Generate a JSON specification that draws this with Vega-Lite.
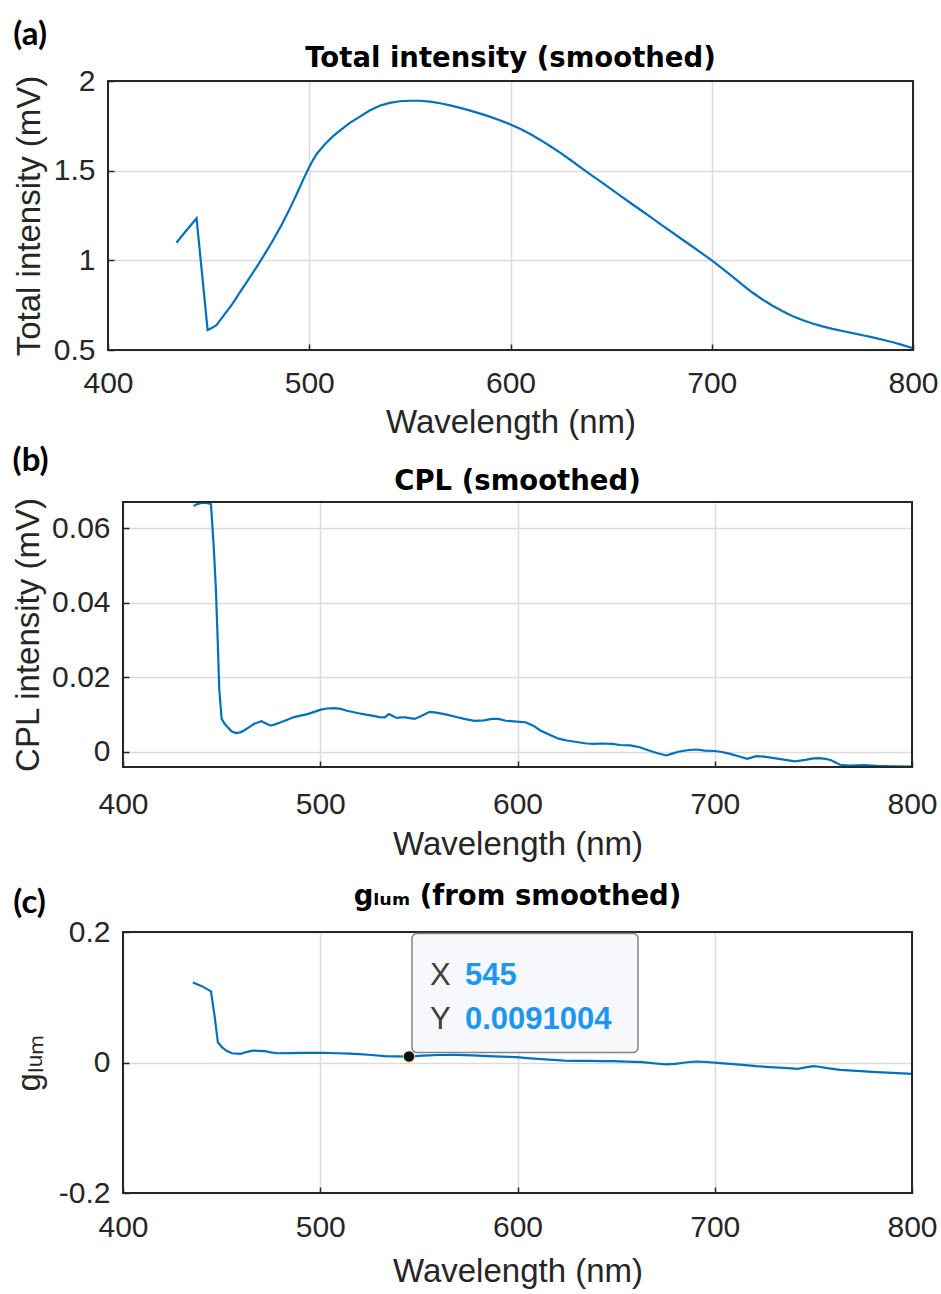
{
  "$schema": "https://vega.github.io/schema/vega-lite/v6.json",
  "background": "white",
  "padding": {"left": 12, "top": 18, "right": 3, "bottom": 3},
  "spacing": 6,
  "config": {
    "font": "Liberation Sans",
    "view": {"stroke": null},
    "axis": {
      "labelFont": "Liberation Sans", "labelFontSize": 30, "labelColor": "#262626",
      "titleFont": "Liberation Sans", "titleFontSize": 33, "titleFontWeight": "normal", "titleColor": "#262626",
      "gridColor": "#dcdcdc", "gridWidth": 1.5, "domain": false,
      "tickColor": "#262626", "tickSize": -6, "tickWidth": 1.5,
      "labelFlush": false, "labelOverlap": false
    },
    "title": {"font": "DejaVu Sans", "fontSize": 27.5, "fontWeight": "bold", "color": "#000000"}
  },
  "vconcat": [
    {
      "title": {"text": "(a)", "anchor": "start", "frame": "bounds", "font": "Lato", "fontSize": 33, "fontWeight": "bold", "color": "#000000", "offset": -7},
      "vconcat": [
        {
          "width": 805, "height": 269,
          "title": {"text": "Total intensity (smoothed)", "offset": -6},
          "data": {"values": [
            {"wavelength": 434, "intensity": 1.098}, {"wavelength": 437, "intensity": 1.14}, {"wavelength": 440, "intensity": 1.18},
            {"wavelength": 444, "intensity": 1.235}, {"wavelength": 449.5, "intensity": 0.611}, {"wavelength": 452, "intensity": 0.625},
            {"wavelength": 454, "intensity": 0.64}, {"wavelength": 458, "intensity": 0.7}, {"wavelength": 462, "intensity": 0.76},
            {"wavelength": 466, "intensity": 0.83}, {"wavelength": 470, "intensity": 0.896}, {"wavelength": 474, "intensity": 0.965},
            {"wavelength": 478, "intensity": 1.037}, {"wavelength": 482, "intensity": 1.112}, {"wavelength": 486, "intensity": 1.192},
            {"wavelength": 490, "intensity": 1.28}, {"wavelength": 494, "intensity": 1.375}, {"wavelength": 497, "intensity": 1.45},
            {"wavelength": 500, "intensity": 1.52}, {"wavelength": 502, "intensity": 1.562}, {"wavelength": 504, "intensity": 1.597},
            {"wavelength": 508, "intensity": 1.65}, {"wavelength": 512, "intensity": 1.694}, {"wavelength": 516, "intensity": 1.73},
            {"wavelength": 520, "intensity": 1.765}, {"wavelength": 525, "intensity": 1.8}, {"wavelength": 530, "intensity": 1.835},
            {"wavelength": 535, "intensity": 1.862}, {"wavelength": 540, "intensity": 1.878}, {"wavelength": 545, "intensity": 1.887},
            {"wavelength": 550, "intensity": 1.89}, {"wavelength": 555, "intensity": 1.89}, {"wavelength": 560, "intensity": 1.885},
            {"wavelength": 565, "intensity": 1.876}, {"wavelength": 570, "intensity": 1.864}, {"wavelength": 575, "intensity": 1.85},
            {"wavelength": 580, "intensity": 1.835}, {"wavelength": 585, "intensity": 1.818}, {"wavelength": 590, "intensity": 1.8},
            {"wavelength": 595, "intensity": 1.78}, {"wavelength": 600, "intensity": 1.758}, {"wavelength": 605, "intensity": 1.732},
            {"wavelength": 610, "intensity": 1.703}, {"wavelength": 615, "intensity": 1.67}, {"wavelength": 620, "intensity": 1.635},
            {"wavelength": 625, "intensity": 1.598}, {"wavelength": 630, "intensity": 1.558}, {"wavelength": 635, "intensity": 1.517},
            {"wavelength": 640, "intensity": 1.476}, {"wavelength": 645, "intensity": 1.437}, {"wavelength": 650, "intensity": 1.397},
            {"wavelength": 655, "intensity": 1.357}, {"wavelength": 660, "intensity": 1.317}, {"wavelength": 665, "intensity": 1.278},
            {"wavelength": 670, "intensity": 1.238}, {"wavelength": 675, "intensity": 1.198}, {"wavelength": 680, "intensity": 1.159},
            {"wavelength": 685, "intensity": 1.119}, {"wavelength": 690, "intensity": 1.08}, {"wavelength": 695, "intensity": 1.04},
            {"wavelength": 700, "intensity": 1.0}, {"wavelength": 705, "intensity": 0.957}, {"wavelength": 710, "intensity": 0.912},
            {"wavelength": 715, "intensity": 0.866}, {"wavelength": 720, "intensity": 0.822}, {"wavelength": 725, "intensity": 0.783},
            {"wavelength": 730, "intensity": 0.748}, {"wavelength": 735, "intensity": 0.717}, {"wavelength": 740, "intensity": 0.69},
            {"wavelength": 745, "intensity": 0.667}, {"wavelength": 750, "intensity": 0.648}, {"wavelength": 755, "intensity": 0.632},
            {"wavelength": 760, "intensity": 0.618}, {"wavelength": 765, "intensity": 0.606}, {"wavelength": 770, "intensity": 0.594},
            {"wavelength": 775, "intensity": 0.582}, {"wavelength": 780, "intensity": 0.57}, {"wavelength": 785, "intensity": 0.557},
            {"wavelength": 790, "intensity": 0.543}, {"wavelength": 795, "intensity": 0.527}, {"wavelength": 800, "intensity": 0.51}
          ]},
          "layer": [
            {
              "mark": {"type": "line", "color": "#0072BD", "strokeWidth": 2.2},
              "encoding": {
                "x": {"field": "wavelength", "type": "quantitative", "scale": {"domain": [400, 800], "nice": false},
                      "axis": {"values": [400, 500, 600, 700, 800], "title": "Wavelength (nm)", "labelPadding": 24, "titlePadding": 8}},
                "y": {"field": "intensity", "type": "quantitative", "scale": {"domain": [0.5, 2], "nice": false, "zero": false},
                      "axis": {"values": [0.5, 1, 1.5, 2], "title": "Total intensity (mV)", "labelPadding": 19, "titlePadding": 7, "labelExpr": "toString(datum.value)"}}
              }
            },
            {
              "data": {"values": [{"frame": 1}]},
              "mark": {"type": "rect", "filled": false, "color": "#262626", "strokeWidth": 2},
              "encoding": {}
            }
          ]
        }
      ]
    },
    {
      "spacing": 21,
      "vconcat": [
        {
          "title": {"text": "(b)", "anchor": "start", "frame": "bounds", "font": "Lato", "fontSize": 33, "fontWeight": "bold", "color": "#000000", "offset": -10},
          "bounds": "flush",
          "spacing": 14,
          "hconcat": [
            {
              "width": 1, "height": 1,
              "data": {"values": [{"spacer": 0}]},
              "mark": {"type": "point", "opacity": 0},
              "encoding": {}
            },
            {
              "width": 789, "height": 265,
              "title": {"text": "CPL (smoothed)", "offset": 1},
              "data": {"values": [
                {"wavelength": 435.8, "cpl": 0.0659}, {"wavelength": 438, "cpl": 0.0665}, {"wavelength": 440.3, "cpl": 0.0668},
                {"wavelength": 443, "cpl": 0.0667}, {"wavelength": 444.6, "cpl": 0.0664}, {"wavelength": 446, "cpl": 0.055},
                {"wavelength": 447.1, "cpl": 0.0435}, {"wavelength": 448, "cpl": 0.03}, {"wavelength": 448.8, "cpl": 0.0168},
                {"wavelength": 450, "cpl": 0.0088}, {"wavelength": 451.5, "cpl": 0.0075}, {"wavelength": 453, "cpl": 0.0066},
                {"wavelength": 455, "cpl": 0.0055}, {"wavelength": 457.2, "cpl": 0.005}, {"wavelength": 459.5, "cpl": 0.0052},
                {"wavelength": 461.4, "cpl": 0.0057}, {"wavelength": 464, "cpl": 0.0066}, {"wavelength": 466.5, "cpl": 0.0075},
                {"wavelength": 470.2, "cpl": 0.0082}, {"wavelength": 472.5, "cpl": 0.0076}, {"wavelength": 474.9, "cpl": 0.007},
                {"wavelength": 477.5, "cpl": 0.0074}, {"wavelength": 480, "cpl": 0.0079}, {"wavelength": 483, "cpl": 0.0085},
                {"wavelength": 486.7, "cpl": 0.0093}, {"wavelength": 490, "cpl": 0.0097}, {"wavelength": 493.5, "cpl": 0.0101},
                {"wavelength": 497, "cpl": 0.0107}, {"wavelength": 500.3, "cpl": 0.0113}, {"wavelength": 503.5, "cpl": 0.0116},
                {"wavelength": 507, "cpl": 0.0117}, {"wavelength": 510.4, "cpl": 0.0115}, {"wavelength": 513.5, "cpl": 0.011},
                {"wavelength": 517.1, "cpl": 0.0106}, {"wavelength": 520.5, "cpl": 0.0102}, {"wavelength": 523.9, "cpl": 0.0099},
                {"wavelength": 527, "cpl": 0.0096}, {"wavelength": 529.8, "cpl": 0.0093}, {"wavelength": 532.7, "cpl": 0.0092},
                {"wavelength": 534.8, "cpl": 0.0101}, {"wavelength": 537, "cpl": 0.0095}, {"wavelength": 539.1, "cpl": 0.009},
                {"wavelength": 540.3, "cpl": 0.0092}, {"wavelength": 543, "cpl": 0.0092}, {"wavelength": 547.8, "cpl": 0.0088},
                {"wavelength": 551, "cpl": 0.0095}, {"wavelength": 555.4, "cpl": 0.0107}, {"wavelength": 559, "cpl": 0.0105},
                {"wavelength": 564.6, "cpl": 0.0099}, {"wavelength": 569, "cpl": 0.0093}, {"wavelength": 573, "cpl": 0.0088},
                {"wavelength": 578.2, "cpl": 0.0083}, {"wavelength": 583, "cpl": 0.0084}, {"wavelength": 587, "cpl": 0.0088},
                {"wavelength": 590.4, "cpl": 0.0088}, {"wavelength": 594, "cpl": 0.0083}, {"wavelength": 599.5, "cpl": 0.0081},
                {"wavelength": 604, "cpl": 0.0079}, {"wavelength": 608, "cpl": 0.007}, {"wavelength": 611.6, "cpl": 0.0057},
                {"wavelength": 616, "cpl": 0.0046}, {"wavelength": 620.8, "cpl": 0.0035}, {"wavelength": 625, "cpl": 0.003},
                {"wavelength": 629.9, "cpl": 0.0026}, {"wavelength": 635, "cpl": 0.0022}, {"wavelength": 639, "cpl": 0.0021},
                {"wavelength": 643, "cpl": 0.0022}, {"wavelength": 648.1, "cpl": 0.0021}, {"wavelength": 652, "cpl": 0.0018},
                {"wavelength": 657.2, "cpl": 0.0017}, {"wavelength": 662, "cpl": 0.0012}, {"wavelength": 666.3, "cpl": 0.0004},
                {"wavelength": 671, "cpl": -0.0004}, {"wavelength": 675.4, "cpl": -0.001}, {"wavelength": 678.5, "cpl": -0.0005},
                {"wavelength": 681.5, "cpl": 0.0}, {"wavelength": 686, "cpl": 0.0004}, {"wavelength": 690.6, "cpl": 0.0006},
                {"wavelength": 695, "cpl": 0.0003}, {"wavelength": 699.7, "cpl": 0.0002}, {"wavelength": 703, "cpl": 0.0},
                {"wavelength": 707.3, "cpl": -0.0005}, {"wavelength": 712, "cpl": -0.0012}, {"wavelength": 716.5, "cpl": -0.0019},
                {"wavelength": 721, "cpl": -0.0012}, {"wavelength": 725, "cpl": -0.0013}, {"wavelength": 730.1, "cpl": -0.0017},
                {"wavelength": 735, "cpl": -0.0021}, {"wavelength": 740.8, "cpl": -0.0026}, {"wavelength": 746, "cpl": -0.0022},
                {"wavelength": 750, "cpl": -0.0018}, {"wavelength": 752.9, "cpl": -0.0017}, {"wavelength": 756, "cpl": -0.0019},
                {"wavelength": 759, "cpl": -0.0023}, {"wavelength": 763.5, "cpl": -0.0035}, {"wavelength": 768, "cpl": -0.0037},
                {"wavelength": 775.7, "cpl": -0.0036}, {"wavelength": 782, "cpl": -0.0038}, {"wavelength": 790, "cpl": -0.0039},
                {"wavelength": 800, "cpl": -0.004}
              ]},
              "layer": [
                {
                  "mark": {"type": "line", "color": "#0072BD", "strokeWidth": 2.2},
                  "encoding": {
                    "x": {"field": "wavelength", "type": "quantitative", "scale": {"domain": [400, 800], "nice": false},
                          "axis": {"values": [400, 500, 600, 700, 800], "title": "Wavelength (nm)", "labelPadding": 28, "titlePadding": 9}},
                    "y": {"field": "cpl", "type": "quantitative", "scale": {"domain": [-0.0041, 0.067], "nice": false, "zero": false},
                          "axis": {"values": [0, 0.02, 0.04, 0.06], "title": "CPL intensity (mV)", "labelPadding": 19, "titlePadding": 6, "labelExpr": "toString(datum.value)"}}
                  }
                },
                {
                  "data": {"values": [{"frame": 1}]},
                  "mark": {"type": "rect", "filled": false, "color": "#262626", "strokeWidth": 2},
                  "encoding": {}
                }
              ]
            }
          ]
        },
        {
          "title": {"text": "(c)", "anchor": "start", "frame": "bounds", "font": "Lato", "fontSize": 33, "fontWeight": "bold", "color": "#000000", "offset": -37},
          "bounds": "flush",
          "spacing": 14,
          "hconcat": [
            {
              "width": 1, "height": 1,
              "data": {"values": [{"spacer": 0}]},
              "mark": {"type": "point", "opacity": 0},
              "encoding": {}
            },
            {
              "width": 789, "height": 261,
              "title": {"text": "gₗᵤₘ (from smoothed)", "offset": 7},
              "data": {"values": [
                {"wavelength": 435.4, "glum": 0.1226}, {"wavelength": 440, "glum": 0.117}, {"wavelength": 444.6, "glum": 0.109},
                {"wavelength": 446.5, "glum": 0.07}, {"wavelength": 448.1, "glum": 0.031}, {"wavelength": 450, "glum": 0.024},
                {"wavelength": 452.5, "glum": 0.018}, {"wavelength": 455.2, "glum": 0.0142}, {"wavelength": 459.7, "glum": 0.0133},
                {"wavelength": 462.5, "glum": 0.016}, {"wavelength": 465.8, "glum": 0.0183}, {"wavelength": 469, "glum": 0.0178},
                {"wavelength": 471.9, "glum": 0.0173}, {"wavelength": 475, "glum": 0.0155}, {"wavelength": 478, "glum": 0.0142},
                {"wavelength": 485, "glum": 0.0145}, {"wavelength": 490, "glum": 0.0148}, {"wavelength": 496.2, "glum": 0.0148},
                {"wavelength": 502, "glum": 0.0147}, {"wavelength": 508.4, "glum": 0.0142}, {"wavelength": 515, "glum": 0.0135},
                {"wavelength": 520, "glum": 0.0128}, {"wavelength": 526, "glum": 0.0115}, {"wavelength": 532.7, "glum": 0.0097},
                {"wavelength": 538, "glum": 0.0094}, {"wavelength": 545, "glum": 0.0091004}, {"wavelength": 552, "glum": 0.0105},
                {"wavelength": 560, "glum": 0.0115}, {"wavelength": 569.1, "glum": 0.0117}, {"wavelength": 577, "glum": 0.011},
                {"wavelength": 585, "glum": 0.0098}, {"wavelength": 592, "glum": 0.009}, {"wavelength": 599.5, "glum": 0.0081},
                {"wavelength": 605, "glum": 0.0068}, {"wavelength": 612, "glum": 0.0052}, {"wavelength": 618, "glum": 0.004},
                {"wavelength": 623.8, "glum": 0.003}, {"wavelength": 630, "glum": 0.0026}, {"wavelength": 636, "glum": 0.0024},
                {"wavelength": 642, "glum": 0.0022}, {"wavelength": 648.1, "glum": 0.002}, {"wavelength": 655, "glum": 0.0013},
                {"wavelength": 663.3, "glum": 0.0005}, {"wavelength": 670, "glum": -0.0015}, {"wavelength": 675.4, "glum": -0.003},
                {"wavelength": 680, "glum": -0.002}, {"wavelength": 685, "glum": 0.0}, {"wavelength": 690.6, "glum": 0.0015},
                {"wavelength": 696, "glum": 0.0008}, {"wavelength": 702.8, "glum": -0.001}, {"wavelength": 708, "glum": -0.0022},
                {"wavelength": 714, "glum": -0.0035}, {"wavelength": 721, "glum": -0.0056}, {"wavelength": 728, "glum": -0.007},
                {"wavelength": 735, "glum": -0.0083}, {"wavelength": 742.3, "glum": -0.0097}, {"wavelength": 746, "glum": -0.0075},
                {"wavelength": 749.9, "glum": -0.0056}, {"wavelength": 753, "glum": -0.0065}, {"wavelength": 757, "glum": -0.0085},
                {"wavelength": 763.5, "glum": -0.0112}, {"wavelength": 770, "glum": -0.0125}, {"wavelength": 776, "glum": -0.0136},
                {"wavelength": 781.8, "glum": -0.0148}, {"wavelength": 790, "glum": -0.016}, {"wavelength": 800, "glum": -0.0173}
              ]},
              "layer": [
                {
                  "mark": {"type": "line", "color": "#0072BD", "strokeWidth": 2.2},
                  "encoding": {
                    "x": {"field": "wavelength", "type": "quantitative", "scale": {"domain": [400, 800], "nice": false},
                          "axis": {"values": [400, 500, 600, 700, 800], "title": "Wavelength (nm)", "labelPadding": 25, "titlePadding": 13}},
                    "y": {"field": "glum", "type": "quantitative", "scale": {"domain": [-0.2, 0.2], "nice": false, "zero": false},
                          "axis": {"values": [-0.2, 0, 0.2], "title": "gₗᵤₘ", "labelPadding": 19, "titlePadding": 12, "labelExpr": "toString(datum.value)"}}
                  }
                },
                {
                  "data": {"values": [{"frame": 1}]},
                  "mark": {"type": "rect", "filled": false, "color": "#262626", "strokeWidth": 2},
                  "encoding": {}
                },
                {
                  "data": {"values": [{"x": 545, "y": 0.0091004}]},
                  "layer": [
                    {
                      "mark": {"type": "rect", "fill": "#f7f8fb", "stroke": "#858585", "strokeWidth": 1.5, "cornerRadius": 5, "xOffset": 3, "x2Offset": 229, "yOffset": -123, "y2Offset": -4},
                      "encoding": {
                        "x": {"field": "x", "type": "quantitative"}, "x2": {"field": "x"},
                        "y": {"field": "y", "type": "quantitative"}, "y2": {"field": "y"}
                      }
                    },
                    {
                      "mark": {"type": "point", "filled": true, "fill": "#111111", "stroke": "#efe9a0", "strokeWidth": 1, "size": 130, "opacity": 1},
                      "encoding": {"x": {"field": "x", "type": "quantitative"}, "y": {"field": "y", "type": "quantitative"}}
                    },
                    {
                      "mark": {"type": "text", "text": "X", "align": "left", "baseline": "alphabetic", "dx": 21, "dy": -71.5, "font": "Liberation Sans", "fontSize": 31, "color": "#404040"},
                      "encoding": {"x": {"field": "x", "type": "quantitative"}, "y": {"field": "y", "type": "quantitative"}}
                    },
                    {
                      "mark": {"type": "text", "text": "Y", "align": "left", "baseline": "alphabetic", "dx": 21, "dy": -27.5, "font": "Liberation Sans", "fontSize": 31, "color": "#404040"},
                      "encoding": {"x": {"field": "x", "type": "quantitative"}, "y": {"field": "y", "type": "quantitative"}}
                    },
                    {
                      "mark": {"type": "text", "align": "left", "baseline": "alphabetic", "dx": 56, "dy": -71.5, "font": "Liberation Sans", "fontSize": 31, "fontWeight": "bold", "color": "#1E96F0"},
                      "encoding": {"x": {"field": "x", "type": "quantitative"}, "y": {"field": "y", "type": "quantitative"}, "text": {"field": "x", "type": "nominal"}}
                    },
                    {
                      "mark": {"type": "text", "align": "left", "baseline": "alphabetic", "dx": 56, "dy": -27.5, "font": "Liberation Sans", "fontSize": 31, "fontWeight": "bold", "color": "#1E96F0"},
                      "encoding": {"x": {"field": "x", "type": "quantitative"}, "y": {"field": "y", "type": "quantitative"}, "text": {"field": "y", "type": "nominal"}}
                    }
                  ]
                }
              ]
            }
          ]
        }
      ]
    }
  ]
}
